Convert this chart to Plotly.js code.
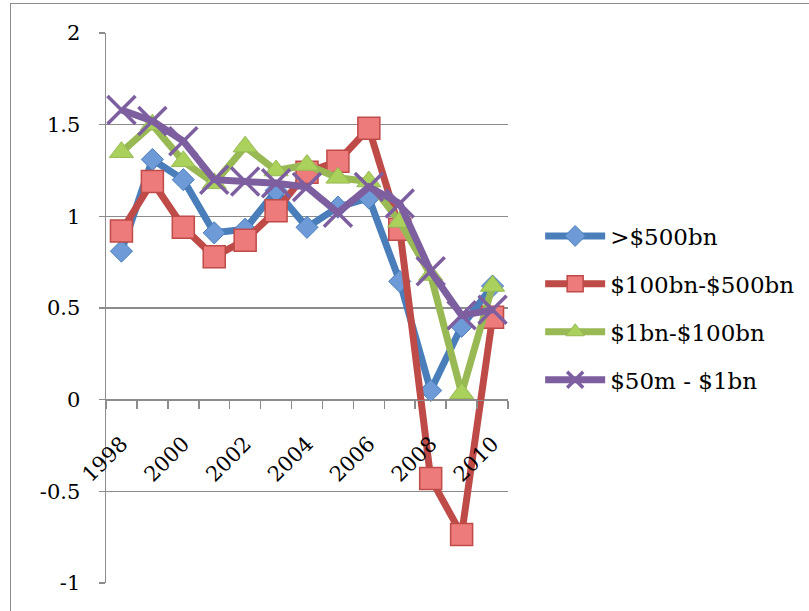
<!DOCTYPE html>
<html>
<head>
<meta charset="utf-8">
<script src="https://cdn.plot.ly/plotly-3.0.1.min.js"></script>
<style>
  html, body { margin: 0; padding: 0; background: #ffffff; }
  #chart { width: 809px; height: 611px; position: absolute; left: 0; top: 0; }
  #frame { position: absolute; left: 10px; top: 3px; width: 830px; height: 640px;
           border: 1.5px solid #8c8c8c; pointer-events: none; }
</style>
</head>
<body>
<div id="chart"></div>
<div id="frame"></div>
<script>
// ---- data ----
const years = [1998, 1999, 2000, 2001, 2002, 2003, 2004, 2005, 2006, 2007, 2008, 2009, 2010];
const seriesNames = [">$500bn", "$100bn-$500bn", "$1bn-$100bn", "$50m - $1bn"];
const over500bn   = [0.81, 1.31, 1.20, 0.91, 0.93, 1.14, 0.94, 1.05, 1.10, 0.645, 0.05, 0.40, 0.62];
const bn100to500  = [0.92, 1.19, 0.94, 0.78, 0.87, 1.03, 1.24, 1.30, 1.48, 0.93, -0.43, -0.735, 0.45];
const bn1to100    = [1.35, 1.50, 1.30, 1.18, 1.38, 1.25, 1.28, 1.21, 1.19, 0.97, 0.68, 0.035, 0.62];
const m50to1bn    = [1.58, 1.52, 1.41, 1.20, 1.19, 1.18, 1.16, 1.02, 1.16, 1.07, 0.70, 0.46, 0.49];
const xTickVals  = [1998, 2000, 2002, 2004, 2006, 2008, 2010];
const xTickText  = ["1998", "2000", "2002", "2004", "2006", "2008", "2010"];
const yTickVals  = [-1, -0.5, 0, 0.5, 1, 1.5, 2];
const yTickText  = ["-1", "-0.5", "0", "0.5", "1", "1.5", "2"];

const FONT = "DejaVu Serif, Liberation Serif, serif";
const GRID = "#8c8c8c";

function mk(y, name, lineColor, symbol, size, fill, border, bw, group) {
  return {
    x: years, y: y, name: name, type: "scatter", mode: "lines+markers",
    legendgroup: group,
    cliponaxis: false,
    line: { color: lineColor, width: 7 },
    marker: { symbol: symbol, size: size, color: fill, line: { color: border, width: bw } }
  };
}

const traces = [
  mk(over500bn,  seriesNames[0], "#4A7EBB", "diamond",     17, "#6E9BD8", "#4A7EBB", 1, "a"),
  mk(bn100to500, seriesNames[1], "#BE4B48", "square",      22, "#EE7B7B", "#BE4B48", 1.5, "b"),
  mk(bn1to100,   seriesNames[2], "#98B954", "triangle-up", 21, "#A9D15C", "#98B954", 1, "c"),
  mk(m50to1bn,   seriesNames[3], "#7D5FA0", "x-thin",      28, "#7D5FA0", "#7D5FA0", 3.5, "d")
];

const layout = {
  width: 809, height: 611,
  margin: { l: 106, r: 301, t: 33, b: 28, autoexpand: false },
  paper_bgcolor: "rgba(0,0,0,0)",
  plot_bgcolor: "#ffffff",
  font: { family: FONT, size: 21, color: "#000000" },
  showlegend: true,
  legend: {
    x: 1.08, y: 0.5, xanchor: "left", yanchor: "middle",
    font: { family: FONT, size: 23, color: "#000000" },
    itemwidth: 60, tracegroupgap: 15, traceorder: "grouped",
    bgcolor: "rgba(0,0,0,0)"
  },
  xaxis: {
    range: [1997.5, 2010.5],
    anchor: "free", position: 1/3,
    showgrid: false, zeroline: false,
    showline: true, linecolor: GRID, linewidth: 1.5,
    tickmode: "array", tickvals: xTickVals, ticktext: xTickText,
    ticks: "", tickangle: -45, ticklabelstandoff: 22,
    tickfont: { family: FONT, size: 21, color: "#000000" },
    minor: { tick0: 1997.5, dtick: 1, ticks: "outside", ticklen: 8, tickcolor: GRID, tickwidth: 1.5, showgrid: false },
    automargin: false, fixedrange: true
  },
  yaxis: {
    range: [-1, 2],
    showgrid: true, gridcolor: GRID, gridwidth: 1.5,
    zeroline: false,
    showline: true, linecolor: GRID, linewidth: 1.5,
    tickmode: "array", tickvals: yTickVals, ticktext: yTickText,
    ticks: "outside", ticklen: 6, tickcolor: GRID, tickwidth: 1.5,
    ticklabelstandoff: 14,
    tickfont: { family: FONT, size: 21, color: "#000000" },
    automargin: false, fixedrange: true
  }
};

Plotly.newPlot("chart", traces, layout, { displayModeBar: false, staticPlot: true });
</script>
</body>
</html>
